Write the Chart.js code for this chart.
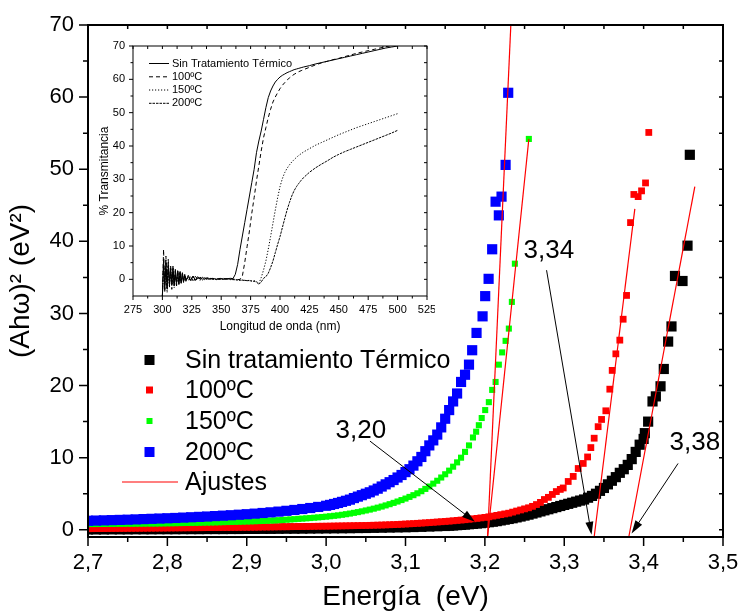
<!DOCTYPE html>
<html>
<head>
<meta charset="utf-8">
<script src="https://cdn.jsdelivr.net/npm/chart.js@4.4.1/dist/chart.umd.min.js"></script>
<style>
  body { margin: 0; background: #fff; }
  #wrap { position: relative; width: 738px; height: 614px; }
  #main { position: absolute; left: 0; top: 0; }
  #inset { position: absolute; left: 90px; top: 38px; }
</style>
</head>
<body>
<div id="wrap">
  <canvas id="main" width="738" height="614"></canvas>
  <canvas id="inset" width="345" height="300"></canvas>
</div>
<script>
const FONT = "'Liberation Sans', Arial, sans-serif";

// ---- main plot: (Ahw)^2 vs energy ----
const seriesNames = ['Sin tratamiento Térmico', '100ºC', '150ºC', '200ºC'];
const fitName = 'Ajustes';
const energyTicks = [2.7, 2.8, 2.9, 3.0, 3.1, 3.2, 3.3, 3.4, 3.5];
const signalTicks = [0, 10, 20, 30, 40, 50, 60, 70];

const blackEnergy = [
  2.70,2.71,2.72,2.73,2.74,2.75,2.76,2.77,2.78,2.79,
  2.80,2.81,2.82,2.83,2.84,2.85,2.86,2.87,2.88,2.89,
  2.90,2.91,2.92,2.93,2.94,2.95,2.96,2.97,2.98,2.99,
  3.00,3.01,3.02,3.03,3.04,3.05,3.06,3.07,3.08,3.09,
  3.10,3.11,3.12,3.13,3.14,3.15,
  3.155,3.16,3.165,3.17,3.175,3.18,3.185,3.19,3.195,3.20,
  3.205,3.21,3.215,3.22,3.225,3.23,3.235,3.24,3.245,3.25,
  3.255,3.26,3.265,3.27,3.275,3.28,3.285,3.29,3.295,3.30,
  3.305,3.31,3.315,3.32,3.325,3.33,3.335,3.34,3.345,3.35,
  3.355,3.36,3.365,3.37,3.375,3.38,3.385,3.39,3.395,3.40,
  3.4015,3.4057,3.4112,3.4154,3.4213,3.4254,3.4309,3.4351,3.4395,3.449,3.4553,3.4582
];
const blackSignal = [
  0.05,0.05,0.05,0.06,0.06,0.06,0.07,0.07,0.07,0.08,
  0.08,0.08,0.09,0.09,0.09,0.10,0.10,0.10,0.11,0.11,
  0.12,0.12,0.13,0.13,0.14,0.15,0.15,0.16,0.17,0.18,
  0.19,0.20,0.21,0.22,0.24,0.25,0.27,0.29,0.31,0.33,
  0.35,0.38,0.41,0.45,0.49,0.53,
  0.56,0.60,0.64,0.68,0.72,0.77,0.82,0.87,0.92,0.98,
  1.05,1.12,1.20,1.30,1.40,1.50,1.60,1.72,1.84,1.97,
  2.10,2.25,2.40,2.55,2.70,2.85,3.00,3.15,3.30,3.45,
  3.60,3.75,3.90,4.05,4.20,4.45,4.70,5.00,5.40,5.80,
  6.30,6.80,7.30,7.90,8.40,9.00,9.80,10.8,11.8,12.6,
  13.4,15.0,17.8,18.5,19.9,22.3,26.1,28.2,35.2,34.5,39.4,52.0
];

const redEnergy = [
  2.700,2.705,2.710,2.715,2.720,2.725,2.730,2.735,2.740,2.745,
  2.750,2.755,2.760,2.765,2.770,2.775,2.780,2.785,2.790,2.795,
  2.800,2.805,2.810,2.815,2.820,2.825,2.830,2.835,2.840,2.845,
  2.850,2.855,2.860,2.865,2.870,2.875,2.880,2.885,2.890,2.895,
  2.900,2.905,2.910,2.915,2.920,2.925,2.930,2.935,2.940,2.945,
  2.950,2.955,2.960,2.965,2.970,2.975,2.980,2.985,2.990,2.995,
  3.000,3.005,3.010,3.015,3.020,3.025,3.030,3.035,3.040,3.045,
  3.050,3.055,3.060,3.065,3.070,3.075,3.080,3.085,3.090,3.095,
  3.100,3.105,3.110,3.115,3.120,3.125,3.130,3.135,3.140,3.145,
  3.150,3.155,3.160,3.165,3.170,3.175,3.180,3.185,3.190,3.195,
  3.200,3.205,3.210,3.215,3.220,3.225,3.230,3.235,3.240,3.245,
  3.250,3.255,3.260,3.265,3.270,3.275,3.280,3.285,3.290,3.295,
  3.2987,3.305,3.3113,3.3176,3.3239,3.3294,3.3335,3.3377,3.3427,3.347,
  3.3524,3.3574,3.3604,3.365,3.37,3.3742,3.3785,3.3835,3.3877,3.3931,
  3.3974,3.4024,3.4065
];
const redSignal = [
  0.150,0.155,0.160,0.165,0.170,0.175,0.180,0.185,0.190,0.195,
  0.200,0.205,0.210,0.215,0.220,0.225,0.230,0.235,0.240,0.245,
  0.250,0.255,0.260,0.265,0.270,0.275,0.280,0.285,0.290,0.295,
  0.300,0.305,0.310,0.315,0.320,0.325,0.330,0.335,0.340,0.345,
  0.35,0.355,0.36,0.37,0.38,0.385,0.39,0.40,0.41,0.415,
  0.42,0.43,0.44,0.445,0.45,0.46,0.47,0.48,0.49,0.495,
  0.50,0.51,0.52,0.53,0.54,0.55,0.56,0.57,0.58,0.59,
  0.60,0.615,0.63,0.645,0.66,0.68,0.70,0.72,0.74,0.77,
  0.80,0.83,0.86,0.895,0.93,0.965,1.00,1.04,1.08,1.12,
  1.16,1.20,1.25,1.30,1.35,1.40,1.46,1.52,1.58,1.65,
  1.72,1.80,1.90,2.00,2.10,2.20,2.30,2.45,2.60,2.75,
  2.90,3.05,3.25,3.50,3.80,4.20,4.50,4.90,5.30,5.60,
  5.8,6.7,7.4,8.5,9.2,10.1,11.4,12.7,14.3,15.3,
  16.5,19.5,22.1,24.4,26.3,29.2,32.5,42.6,46.5,46.2,
  47.0,48.1,55.1
];

const greenEnergy = [
  2.700,2.705,2.710,2.715,2.720,2.725,2.730,2.735,2.740,2.745,
  2.750,2.755,2.760,2.765,2.770,2.775,2.780,2.785,2.790,2.795,
  2.800,2.805,2.810,2.815,2.820,2.825,2.830,2.835,2.840,2.845,
  2.850,2.855,2.860,2.865,2.870,2.875,2.880,2.885,2.890,2.895,
  2.900,2.905,2.910,2.915,2.920,2.925,2.930,2.935,2.940,2.945,
  2.950,2.955,2.960,2.965,2.970,2.975,2.980,2.985,2.990,2.995,
  3.000,3.005,3.010,3.015,3.020,3.025,3.030,3.035,3.040,3.045,
  3.050,3.055,3.060,3.065,3.070,3.075,3.080,3.085,3.090,3.095,
  3.100,3.105,3.110,3.115,3.120,3.125,3.130,3.135,3.140,3.145,
  3.150,3.155,3.160,3.165,3.170,3.175,3.180,3.185,
  3.189,3.1924,3.196,3.2004,3.205,3.2092,3.2135,3.2176,3.2218,3.2261,
  3.2302,3.234,3.2378,3.2554
];
const greenSignal = [
  0.80,0.80,0.80,0.805,0.81,0.815,0.82,0.825,0.83,0.835,
  0.84,0.845,0.85,0.855,0.86,0.865,0.87,0.875,0.88,0.89,
  0.90,0.91,0.92,0.93,0.94,0.95,0.96,0.97,0.98,0.99,
  1.00,1.015,1.03,1.045,1.06,1.075,1.09,1.105,1.12,1.135,
  1.15,1.17,1.19,1.21,1.23,1.255,1.28,1.305,1.33,1.365,
  1.40,1.435,1.47,1.51,1.55,1.59,1.63,1.675,1.72,1.77,
  1.82,1.88,1.94,2.00,2.08,2.16,2.25,2.35,2.45,2.56,
  2.68,2.80,2.93,3.07,3.22,3.38,3.55,3.73,3.92,4.12,
  4.33,4.56,4.80,5.06,5.35,5.67,6.00,6.40,6.80,7.25,
  7.70,8.20,8.75,9.35,10.0,10.8,11.7,12.8,
  13.6,14.5,15.5,16.6,17.7,19.4,20.5,22.9,24.6,26.2,
  27.9,31.6,36.9,54.2
];

const blueEnergy = [
  2.70,2.71,2.72,2.73,2.74,2.75,2.76,2.77,2.78,2.79,
  2.80,2.81,2.82,2.83,2.84,2.85,2.86,2.87,2.88,2.89,
  2.90,2.91,2.92,2.93,2.94,2.95,2.96,2.97,2.98,2.99,
  3.00,
  3.005,3.01,3.015,3.02,3.025,3.03,3.035,3.04,3.045,3.05,
  3.055,3.06,3.065,3.07,3.075,3.08,3.085,3.09,3.095,3.10,
  3.105,3.11,3.115,3.12,3.125,3.13,3.135,3.14,3.145,3.15,
  3.155,3.16,3.165,3.17,3.175,3.18,
  3.184,3.1895,3.1971,3.2004,3.2047,3.2092,3.2135,3.2176,3.221,3.2261,3.2294
];
const blueSignal = [
  1.25,1.28,1.31,1.34,1.37,1.40,1.44,1.48,1.52,1.56,
  1.60,1.64,1.69,1.74,1.79,1.84,1.90,1.96,2.02,2.09,
  2.16,2.24,2.33,2.42,2.52,2.63,2.75,2.88,3.02,3.17,
  3.33,
  3.45,3.58,3.72,3.87,4.02,4.18,4.40,4.60,4.80,5.00,
  5.20,5.45,5.70,6.00,6.30,6.60,6.90,7.25,7.60,8.00,
  8.40,8.90,9.50,10.1,10.9,11.7,12.4,13.2,14.2,15.4,
  16.6,17.8,18.9,20.5,21.5,22.9,
  24.9,27.3,29.6,32.4,34.8,38.9,45.5,43.6,46.2,50.6,60.6
];

// linear fits (two end points each)
const blackFitEnergy = [3.3813, 3.4645], blackFitSignal = [-1, 47.6];
const redFitEnergy = [3.3377, 3.3889], redFitSignal = [-1, 44.5];
const greenFitEnergy = [3.2034, 3.2554], greenFitSignal = [-1, 54.2];
const blueFitEnergy = [3.2034, 3.2327], blueFitSignal = [-1, 70];

// gap annotations: label, text position, arrow start -> end (data units)
const gapLabels = ['3,20', '3,34', '3,38'];
const gapText = [[3.0438, 13.7], [3.2806, 38.7], [3.4645, 12.0]];
const gapArrowFrom = [[3.0552, 12.3], [3.2777, 36.0], [3.4434, 9.2]];
const gapArrowTo = [[3.1874, 1.1], [3.3344, -0.7], [3.3848, -0.5]];

// ---- inset: transmittance spectra ----
const insetNames = ['Sin Tratamiento Térmico', '100ºC', '150ºC', '200ºC'];
const wavelengthTicks = [275, 300, 325, 350, 375, 400, 425, 450, 475, 500, 525];
const transTicks = [0, 10, 20, 30, 40, 50, 60, 70];
const wavelength = [
  300,301,302,303,304,305,306,307,308,309,310,311,312,313,314,315,316,317,318,319,320,
  322,324,326,328,330,332,334,336,338,340,
  343,346,349,352,355,
  358,360,362,364,366,368,370,372,374,376,378,380,382,384,386,388,
  390,392,394,396,398,400,402,404,406,408,410,412,414,416,418,420,
  425,430,435,440,445,450,455,460,465,470,475,480,485,490,495,500
];
const transNone = [
  -5,6,-3,5,-2,4,-2,3.5,-1.5,3,-2,3,-1,2.5,-1.5,2,-1,2,-0.5,1.5,-0.5,
  1.2,-0.3,1,-0.2,0.8,0,0.6,0.1,0.5,0.2,
  0.3,0,0.3,0.1,0.2,
  0.3,0.2,1.5,4.5,9,13,17,21,25,29,33,38,41.5,44.5,48,51.5,
  54.5,56.5,58,59.2,60,60.7,61.2,61.6,62,62.3,62.6,62.9,63.1,63.3,63.5,63.7,
  64.1,64.6,65,65.4,65.8,66.2,66.6,67,67.4,67.8,68.2,68.6,69,69.4,69.7,70
];
const trans100 = [
  -5,9,-4,7,-3,5,-1,4,-3,3.5,-1,2.5,-2,3,-1,2,-1.5,1.8,-0.8,1.5,-0.2,
  -0.5,1,-0.4,0.9,0,0.7,-0.1,0.5,0,0.4,
  0,0.2,0,0.3,0,
  0.2,0.1,0,-0.1,0,1,5,9.8,14.5,19.8,24.5,29.5,34,38.5,42.5,45.5,
  48.5,51,53.2,54.7,56,57.2,58.2,59,59.8,60.4,61,61.5,61.9,62.3,62.6,62.9,
  63.6,64.3,64.9,65.4,65.9,66.3,66.8,67.3,67.8,68.2,68.6,69,69.4,69.8,70.1,70.4
];
const trans150 = [
  -5,5,-2,6,-4,3,-2.5,4,-1,2.5,-2.5,2,-1.5,2.5,-1,1.5,-1.2,1.6,-0.5,1,-0.6,
  0.8,-0.6,0.6,-0.4,0.5,-0.3,0.4,-0.1,0.3,0,
  0.1,-0.1,0.2,0,0.1,
  -0.1,0,-0.2,-0.1,-0.3,-0.2,-0.3,-0.4,-0.3,-0.5,-0.4,-0.6,-1.3,0.5,2.8,5.5,
  9,12.8,16.8,20.8,24.5,27.8,30.2,32,33.3,34.3,35.2,35.9,36.6,37.2,37.7,38.2,
  39.2,40.2,41,41.8,42.6,43.4,44.1,44.8,45.5,46.1,46.7,47.3,47.9,48.5,49.1,49.7
];
const trans200 = [
  -5,4,-1,3,-3,6,-1.5,2,-2,4,-1.5,1.5,-2,2,-1.5,2.5,-0.5,1.2,-1,1.2,0,
  0.5,-0.2,1,-0.5,0.3,0.2,-0.2,0.4,0,0.1,
  0.2,0,0.1,0,0.2,
  0,-0.1,-0.1,-0.2,-0.2,-0.3,-0.3,-0.4,-0.4,-0.5,-0.6,-0.8,-1.5,-0.8,0.3,0.8,
  1.8,3.5,5.5,8,10.5,12.8,15.5,18.2,20.8,23,25,26.6,27.8,28.8,29.7,30.5,
  32.1,33.4,34.5,35.5,36.6,37.5,38.3,39,39.7,40.4,41.1,41.8,42.5,43.2,43.9,44.7
];

const pts = (xs, ys) => xs.map((x, i) => ({ x, y: ys[i] }));

const markerColors = ['#000000', '#ff0000', '#00ff00', '#0000ff'];
const markerRadius = [7.2, 4.8, 4.3, 7.2];
const legendSide = [10, 7, 6, 10];

function squares(i, e, s, order) {
  return {
    label: seriesNames[i], data: pts(e, s), pointStyle: 'rect',
    pointRadius: markerRadius[i], backgroundColor: markerColors[i],
    borderWidth: 0, showLine: false, order
  };
}
function fitLine(e, s) {
  return {
    label: fitName, data: pts(e, s), showLine: true, pointRadius: 0,
    borderColor: '#ff0000', borderWidth: 1.2, order: 0
  };
}

function drawArrow(ctx, x1, y1, x2, y2) {
  const a = Math.atan2(y2 - y1, x2 - x1), len = 13, w = 4;
  ctx.beginPath();
  ctx.moveTo(x1, y1);
  ctx.lineTo(x2 - Math.cos(a) * len * 0.7, y2 - Math.sin(a) * len * 0.7);
  ctx.stroke();
  ctx.beginPath();
  ctx.moveTo(x2, y2);
  ctx.lineTo(x2 - len * Math.cos(a) + w * Math.sin(a), y2 - len * Math.sin(a) - w * Math.cos(a));
  ctx.lineTo(x2 - len * Math.cos(a) - w * Math.sin(a), y2 - len * Math.sin(a) + w * Math.cos(a));
  ctx.closePath();
  ctx.fill();
}

// frame + ticks on all four sides
function drawFrame(chart, xTicks, yTicks, o) {
  const { ctx, chartArea: a, scales: { x, y } } = chart;
  ctx.save();
  ctx.strokeStyle = '#000';
  ctx.lineWidth = o.frame;
  ctx.strokeRect(a.left, a.top, a.right - a.left, a.bottom - a.top);
  ctx.lineWidth = o.tick;
  ctx.beginPath();
  xTicks.forEach((v, i) => {
    const px = x.getPixelForValue(v);
    ctx.moveTo(px, a.bottom); ctx.lineTo(px, a.bottom + o.major);
    ctx.moveTo(px, a.top); ctx.lineTo(px, a.top + o.inner);
    if (i < xTicks.length - 1) {
      const pm = x.getPixelForValue((v + xTicks[i + 1]) / 2);
      ctx.moveTo(pm, a.bottom); ctx.lineTo(pm, a.bottom + o.minor);
      ctx.moveTo(pm, a.top); ctx.lineTo(pm, a.top + o.inner);
    }
  });
  yTicks.forEach((v, i) => {
    const py = y.getPixelForValue(v);
    ctx.moveTo(a.left, py); ctx.lineTo(a.left - o.major, py);
    ctx.moveTo(a.right, py); ctx.lineTo(a.right - o.inner, py);
    if (i < yTicks.length - 1) {
      const pm = y.getPixelForValue((v + yTicks[i + 1]) / 2);
      ctx.moveTo(a.left, pm); ctx.lineTo(a.left - o.minor, pm);
      ctx.moveTo(a.right, pm); ctx.lineTo(a.right - o.inner, pm);
    }
  });
  ctx.stroke();
  ctx.restore();
}

const mainOverlay = {
  id: 'mainOverlay',
  afterDraw(chart) {
    const { ctx, scales: { x, y } } = chart;
    drawFrame(chart, energyTicks, signalTicks, { frame: 2, tick: 1.5, major: 9, minor: 5, inner: 4 });
    ctx.save();
    // arrows and gap values
    ctx.strokeStyle = '#000'; ctx.fillStyle = '#000'; ctx.lineWidth = 1;
    gapLabels.forEach((t, i) => {
      drawArrow(ctx,
        x.getPixelForValue(gapArrowFrom[i][0]), y.getPixelForValue(gapArrowFrom[i][1]),
        x.getPixelForValue(gapArrowTo[i][0]), y.getPixelForValue(gapArrowTo[i][1]));
      ctx.font = '26px ' + FONT;
      ctx.textAlign = 'center'; ctx.textBaseline = 'middle';
      ctx.fillText(t, x.getPixelForValue(gapText[i][0]), y.getPixelForValue(gapText[i][1]));
    });
    // legend
    const rows = [360, 390, 421, 452];
    ctx.font = '25px ' + FONT;
    ctx.textAlign = 'left'; ctx.textBaseline = 'middle';
    seriesNames.forEach((n, i) => {
      const s = legendSide[i];
      ctx.fillStyle = markerColors[i];
      ctx.fillRect(149.5 - s / 2, rows[i] - s / 2, s, s);
      ctx.fillStyle = '#000';
      ctx.fillText(n, 185, rows[i] + 1);
    });
    ctx.strokeStyle = '#ff0000'; ctx.lineWidth = 1.2;
    ctx.beginPath(); ctx.moveTo(122, 482); ctx.lineTo(178, 482); ctx.stroke();
    ctx.fillStyle = '#000';
    ctx.fillText(fitName, 185, 483);
    ctx.restore();
  }
};

new Chart(document.getElementById('main'), {
  type: 'scatter',
  data: {
    datasets: [
      squares(0, blackEnergy, blackSignal, 4),
      squares(1, redEnergy, redSignal, 3),
      squares(2, greenEnergy, greenSignal, 2),
      squares(3, blueEnergy, blueSignal, 1),
      fitLine(blackFitEnergy, blackFitSignal),
      fitLine(redFitEnergy, redFitSignal),
      fitLine(greenFitEnergy, greenFitSignal),
      fitLine(blueFitEnergy, blueFitSignal)
    ]
  },
  options: {
    responsive: false,
    animation: false,
    layout: { padding: { top: 25, right: 15, left: 0, bottom: 0 } },
    plugins: { legend: { display: false }, tooltip: { enabled: false } },
    scales: {
      x: {
        type: 'linear', min: 2.7, max: 3.5,
        grid: { display: false, drawTicks: false }, border: { display: false },
        afterBuildTicks: s => { s.ticks = energyTicks.map(v => ({ value: v })); },
        afterFit: s => { s.height = 77; s.paddingLeft = 0; s.paddingRight = 0; },
        ticks: {
          font: { family: FONT, size: 22 }, color: '#000', padding: 13,
          maxRotation: 0, autoSkip: false,
          callback: v => v.toFixed(1).replace('.', ',')
        },
        title: { display: true, text: 'Energía  (eV)', font: { family: FONT, size: 28 }, color: '#000', padding: 0 }
      },
      y: {
        type: 'linear', min: -1, max: 70,
        grid: { display: false, drawTicks: false }, border: { display: false },
        afterBuildTicks: s => { s.ticks = signalTicks.map(v => ({ value: v })); },
        afterFit: s => { s.width = 88; s.paddingTop = 0; s.paddingBottom = 0; },
        ticks: { font: { family: FONT, size: 22 }, color: '#000', padding: 14 },
        title: { display: true, text: '(Ahω)² (eV²)', font: { family: FONT, size: 28 }, color: '#000', padding: { top: 4, bottom: 0 } }
      }
    }
  },
  plugins: [mainOverlay]
});

// ---- inset chart ----
const insetDash = [[], [4, 3], [1.2, 1.8], [2.5, 1]];
const insetRows = [25.5, 38.8, 52, 65.3];

const insetOverlay = {
  id: 'insetOverlay',
  afterDraw(chart) {
    const { ctx } = chart;
    drawFrame(chart, wavelengthTicks, transTicks, { frame: 1, tick: 1, major: 4, minor: 2.5, inner: 3 });
    ctx.save();
    ctx.font = '11px ' + FONT;
    ctx.textAlign = 'left'; ctx.textBaseline = 'middle';
    ctx.fillStyle = '#000'; ctx.strokeStyle = '#000'; ctx.lineWidth = 1;
    insetNames.forEach((n, i) => {
      ctx.setLineDash(insetDash[i]);
      ctx.beginPath(); ctx.moveTo(59, insetRows[i]); ctx.lineTo(79, insetRows[i]); ctx.stroke();
      ctx.setLineDash([]);
      ctx.fillText(n, 82, insetRows[i]);
    });
    ctx.restore();
  }
};

const insetSeries = [transNone, trans100, trans150, trans200];
new Chart(document.getElementById('inset'), {
  type: 'scatter',
  data: {
    datasets: insetSeries.map((t, i) => ({
      label: insetNames[i], data: pts(wavelength, t), showLine: true,
      pointRadius: 0, borderColor: '#000', borderWidth: 1, borderDash: insetDash[i]
    }))
  },
  options: {
    responsive: false,
    animation: false,
    layout: { padding: { top: 8, right: 8, left: 0, bottom: 0 } },
    plugins: { legend: { display: false }, tooltip: { enabled: false } },
    scales: {
      x: {
        type: 'linear', min: 275, max: 525,
        grid: { display: false, drawTicks: false }, border: { display: false },
        afterBuildTicks: s => { s.ticks = wavelengthTicks.map(v => ({ value: v })); },
        afterFit: s => { s.height = 42; s.paddingLeft = 0; s.paddingRight = 0; },
        ticks: { font: { family: FONT, size: 11 }, color: '#000', padding: 7, maxRotation: 0, autoSkip: false },
        title: { display: true, text: 'Longitud de onda (nm)', font: { family: FONT, size: 12 }, color: '#000', padding: { top: 0, bottom: 4 } }
      },
      y: {
        type: 'linear', min: -5, max: 70,
        grid: { display: false, drawTicks: false }, border: { display: false },
        afterBuildTicks: s => { s.ticks = transTicks.map(v => ({ value: v })); },
        afterFit: s => { s.width = 43; s.paddingTop = 0; s.paddingBottom = 0; },
        ticks: { font: { family: FONT, size: 11 }, color: '#000', padding: 8 },
        title: { display: true, text: '% Transmitancia', font: { family: FONT, size: 12 }, color: '#000', padding: { top: 7, bottom: 0 } }
      }
    }
  },
  plugins: [insetOverlay]
});
</script>
</body>
</html>
